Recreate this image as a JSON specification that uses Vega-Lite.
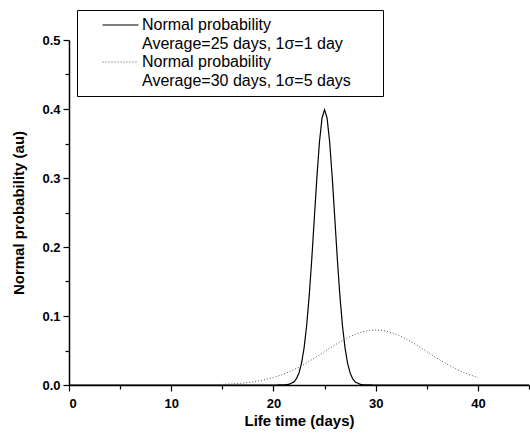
{
  "$schema": "https://vega.github.io/schema/vega-lite/v6.json",
  "width": 460,
  "height": 345,
  "autosize": {"type": "none"},
  "padding": {"left": 69, "top": 40, "right": 1, "bottom": 51},
  "config": {
    "view": {"stroke": null},
    "font": "Liberation Sans",
    "axis": {"grid": false, "domainColor": "black", "domainWidth": 1.5, "tickColor": "black", "tickWidth": 1.2, "labelColor": "black", "titleColor": "black", "labelFont": "Liberation Sans", "titleFont": "Liberation Sans"}
  },
  "data": {
    "values": [
      {"t": 0, "p": 0, "s": "A"},
      {"t": 20, "p": 0, "s": "A"},
      {"t": 21, "p": 0.0001, "s": "A"},
      {"t": 21.5, "p": 0.0009, "s": "A"},
      {"t": 22, "p": 0.0044, "s": "A"},
      {"t": 22.25, "p": 0.0091, "s": "A"},
      {"t": 22.5, "p": 0.0175, "s": "A"},
      {"t": 22.75, "p": 0.0317, "s": "A"},
      {"t": 23, "p": 0.054, "s": "A"},
      {"t": 23.25, "p": 0.0863, "s": "A"},
      {"t": 23.5, "p": 0.1295, "s": "A"},
      {"t": 23.75, "p": 0.1826, "s": "A"},
      {"t": 24, "p": 0.242, "s": "A"},
      {"t": 24.25, "p": 0.3011, "s": "A"},
      {"t": 24.5, "p": 0.3521, "s": "A"},
      {"t": 24.75, "p": 0.3867, "s": "A"},
      {"t": 25, "p": 0.3989, "s": "A"},
      {"t": 25.25, "p": 0.3867, "s": "A"},
      {"t": 25.5, "p": 0.3521, "s": "A"},
      {"t": 25.75, "p": 0.3011, "s": "A"},
      {"t": 26, "p": 0.242, "s": "A"},
      {"t": 26.25, "p": 0.1826, "s": "A"},
      {"t": 26.5, "p": 0.1295, "s": "A"},
      {"t": 26.75, "p": 0.0863, "s": "A"},
      {"t": 27, "p": 0.054, "s": "A"},
      {"t": 27.25, "p": 0.0317, "s": "A"},
      {"t": 27.5, "p": 0.0175, "s": "A"},
      {"t": 27.75, "p": 0.0091, "s": "A"},
      {"t": 28, "p": 0.0044, "s": "A"},
      {"t": 28.5, "p": 0.0009, "s": "A"},
      {"t": 29, "p": 0.0001, "s": "A"},
      {"t": 30, "p": 0, "s": "A"},
      {"t": 45, "p": 0, "s": "A"},
      {"t": 15, "p": 0.00089, "s": "C"},
      {"t": 16, "p": 0.00158, "s": "C"},
      {"t": 17, "p": 0.00272, "s": "C"},
      {"t": 18, "p": 0.00448, "s": "C"},
      {"t": 19, "p": 0.00709, "s": "C"},
      {"t": 20, "p": 0.0108, "s": "C"},
      {"t": 21, "p": 0.01579, "s": "C"},
      {"t": 22, "p": 0.02218, "s": "C"},
      {"t": 23, "p": 0.02995, "s": "C"},
      {"t": 24, "p": 0.03884, "s": "C"},
      {"t": 25, "p": 0.04839, "s": "C"},
      {"t": 26, "p": 0.05794, "s": "C"},
      {"t": 27, "p": 0.06664, "s": "C"},
      {"t": 28, "p": 0.07365, "s": "C"},
      {"t": 29, "p": 0.07821, "s": "C"},
      {"t": 30, "p": 0.07979, "s": "C"},
      {"t": 31, "p": 0.07821, "s": "C"},
      {"t": 32, "p": 0.07365, "s": "C"},
      {"t": 33, "p": 0.06664, "s": "C"},
      {"t": 34, "p": 0.05794, "s": "C"},
      {"t": 35, "p": 0.04839, "s": "C"},
      {"t": 36, "p": 0.03884, "s": "C"},
      {"t": 37, "p": 0.02995, "s": "C"},
      {"t": 38, "p": 0.02218, "s": "C"},
      {"t": 39, "p": 0.01579, "s": "C"},
      {"t": 40, "p": 0.0108, "s": "C"}
    ]
  },
  "resolve": {"axis": {"x": "independent", "y": "independent"}},
  "layer": [
    {
      "transform": [{"filter": "datum.s === 'A'"}],
      "mark": {"type": "line", "strokeWidth": 1.2},
      "encoding": {
        "x": {"field": "t", "type": "quantitative", "scale": {"domain": [0, 45], "nice": false},
          "axis": {"orient": "bottom", "values": [0, 10, 20, 30, 40], "title": "Life time (days)", "labelFontSize": 13, "labelFontWeight": "bold", "tickSize": 6, "labelPadding": 6, "titleFontSize": 15, "titleFontWeight": "bold", "titlePadding": 3}},
        "y": {"field": "p", "type": "quantitative", "scale": {"domain": [0, 0.5], "nice": false},
          "axis": {"orient": "left", "values": [0, 0.1, 0.2, 0.3, 0.4, 0.5], "format": ".1f", "title": "Normal probability (au)", "labelFontSize": 13, "labelFontWeight": "bold", "tickSize": 6, "labelPadding": 3, "titleFontSize": 15, "titleFontWeight": "bold", "titlePadding": 15}},
        "color": {"field": "s", "type": "nominal", "scale": {"domain": ["A", "B", "C", "D"], "range": ["black", "transparent", "#555555", "transparent"]},
          "legend": {"orient": "none", "legendX": 8, "legendY": -30, "title": "ii", "titleOrient": "right", "titleColor": "transparent", "titleFontSize": 16, "titlePadding": 16, "strokeColor": "black", "padding": 7, "symbolType": "M-4,0H4", "symbolSize": 81, "symbolStrokeWidth": 1.2, "symbolOffset": 28.5, "labelFontSize": 16, "labelColor": "black", "labelOffset": 13.5, "labelLimit": 400, "rowPadding": 2.5,
            "labelExpr": "datum.value === 'A' ? 'Normal probability' : datum.value === 'B' ? 'Average=25 days, 1σ=1 day' : datum.value === 'C' ? 'Normal probability' : 'Average=30 days, 1σ=5 days'"}},
        "strokeDash": {"field": "s", "type": "nominal", "scale": {"domain": ["A", "B", "C", "D"], "range": [[1, 0], [1, 0], [1, 2], [1, 0]]}, "legend": null}
      }
    },
    {
      "transform": [{"filter": "datum.s === 'C'"}],
      "mark": {"type": "line", "strokeWidth": 1, "color": "#555555", "strokeDash": [1, 2]},
      "encoding": {
        "x": {"field": "t", "type": "quantitative", "scale": {"domain": [0, 45], "nice": false},
          "axis": {"orient": "bottom", "values": [5, 15, 25, 35, 45], "labels": false, "domain": false, "title": null, "tickSize": 4}},
        "y": {"field": "p", "type": "quantitative", "scale": {"domain": [0, 0.5], "nice": false},
          "axis": {"orient": "left", "values": [0.05, 0.15, 0.25, 0.35, 0.45], "labels": false, "domain": false, "title": null, "tickSize": 4}}
      }
    }
  ]
}
